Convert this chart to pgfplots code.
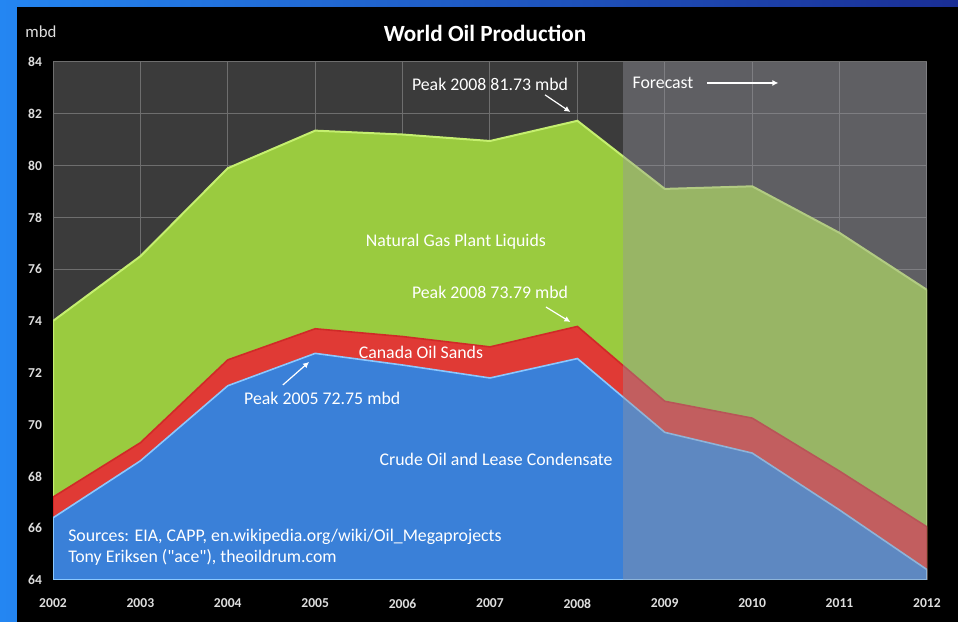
\documentclass[border=0pt]{standalone}
\usepackage{pgfplots}
\pgfplotsset{compat=1.18}
\usepackage{pgfplotstable}
\usepackage{fontspec}
\setmainfont{Carlito}
\newfontfamily\rawcarlito{Carlito}
\usetikzlibrary{arrows.meta}

\definecolor{bgL}{HTML}{2486F2}
\definecolor{bgR}{HTML}{1A2E95}
\definecolor{plotbg}{HTML}{3B3B3B}
\definecolor{gridc}{HTML}{6E6E6E}
\definecolor{gfill}{HTML}{9ACB3F}
\definecolor{gline}{HTML}{C5EF6F}
\definecolor{rfill}{HTML}{E03A35}
\definecolor{rline}{HTML}{D02A28}
\definecolor{bfill}{HTML}{3A80D8}
\definecolor{bline}{HTML}{8AC8FF}
\definecolor{fcast}{RGB}{150,150,160}
\definecolor{ticktxt}{HTML}{DEDEDE}

\pgfplotstableread{
year crude sands total
2002 66.40 67.20 74.00
2003 68.60 69.30 76.50
2004 71.50 72.50 79.90
2005 72.75 73.70 81.35
2006 72.30 73.40 81.20
2007 71.80 73.00 80.95
2008 72.55 73.79 81.73
2009 69.70 70.90 79.10
2010 68.90 70.25 79.20
2011 66.70 68.20 77.40
2012 64.40 66.05 75.20
}\oildata

\begin{document}
\begin{tikzpicture}[x=0.5pt,y=0.5pt]
\useasboundingbox (0,0) rectangle (958,621);
\shade[left color=bgL, right color=bgR] (0,0) rectangle (958,621);
\fill[black] (17,-40) rectangle (1100,614);
\node[text=white, font=\fontsize{11.6}{13}\selectfont\bfseries] at (485,588) {World Oil Production};
\node[text=ticktxt, font=\fontsize{8.4}{10}\selectfont] at (41,589) {mbd};
\begin{axis}[
  at={(26.5pt,20.5pt)}, anchor=south west,
  scale only axis, width=437pt, height=259pt,
  xmin=2002, xmax=2012, ymin=64, ymax=84,
  xtick={2002,...,2012}, ytick={64,66,...,84},
  /pgf/number format/1000 sep={},
  /pgf/number format/assume math mode=true,
  axis background/.style={fill=plotbg},
  grid=major, major grid style={color=gridc, line width=0.5pt},
  axis line style={draw=none},
  tick style={draw=none},
  ticklabel style={text=ticktxt, font=\fontsize{6.8}{8}\selectfont\bfseries},
  xticklabel style={yshift=-6pt},
  yticklabel style={xshift=-2pt},
  clip=true,
]
\addplot[fill=gfill, draw=gline, line width=1pt] table[x=year,y=total]{\oildata} \closedcycle;
\addplot[fill=rfill, draw=rline, line width=0.8pt] table[x=year,y=sands]{\oildata} \closedcycle;
\addplot[fill=bfill, draw=bline, line width=0.8pt] table[x=year,y=crude]{\oildata} \closedcycle;
\fill[fcast, opacity=0.4] (axis cs:2008.52,64) rectangle (axis cs:2012,84);

\begin{scope}[every node/.style={text=white, font=\fontsize{8.9}{10}\selectfont}]
\node at (axis cs:2007.0,83.15) {Peak 2008 81.73 mbd};
\draw[white, line width=0.6pt, -{Latex[length=3pt,width=3pt]}] (axis cs:2007.63,82.73) -- (axis cs:2007.92,82.07);
\node at (axis cs:2008.98,83.19) {Forecast};
\draw[white, line width=0.8pt, -{Latex[length=3pt,width=3pt]}] (axis cs:2009.48,83.19) -- (axis cs:2010.3,83.19);
\node at (axis cs:2006.61,77.05) {Natural Gas Plant Liquids};
\node at (axis cs:2007.0,75.12) {Peak 2008 73.79 mbd};
\draw[white, line width=0.6pt, -{Latex[length=3pt,width=3pt]}] (axis cs:2007.64,74.54) -- (axis cs:2007.92,73.96);
\node at (axis cs:2006.21,72.8) {Canada Oil Sands};
\node at (axis cs:2005.08,71.03) {Peak 2005 72.75 mbd};
\draw[white, line width=0.6pt, -{Latex[length=3pt,width=3pt]}] (axis cs:2004.63,71.53) -- (axis cs:2004.93,72.42);
\node at (axis cs:2007.07,68.67) {Crude Oil and Lease Condensate};
\node[anchor=base west, inner sep=0pt] at (axis cs:2002.17,65.5) {Sources: EIA, CAPP, en.wikipedia.org/wiki/Oil\_Megaprojects};
\node[anchor=base west, inner sep=0pt] at (axis cs:2002.17,64.69) {\rawcarlito Tony Eriksen ("ace"), theoildrum.com};
\end{scope}
\end{axis}
\end{tikzpicture}
\end{document}
